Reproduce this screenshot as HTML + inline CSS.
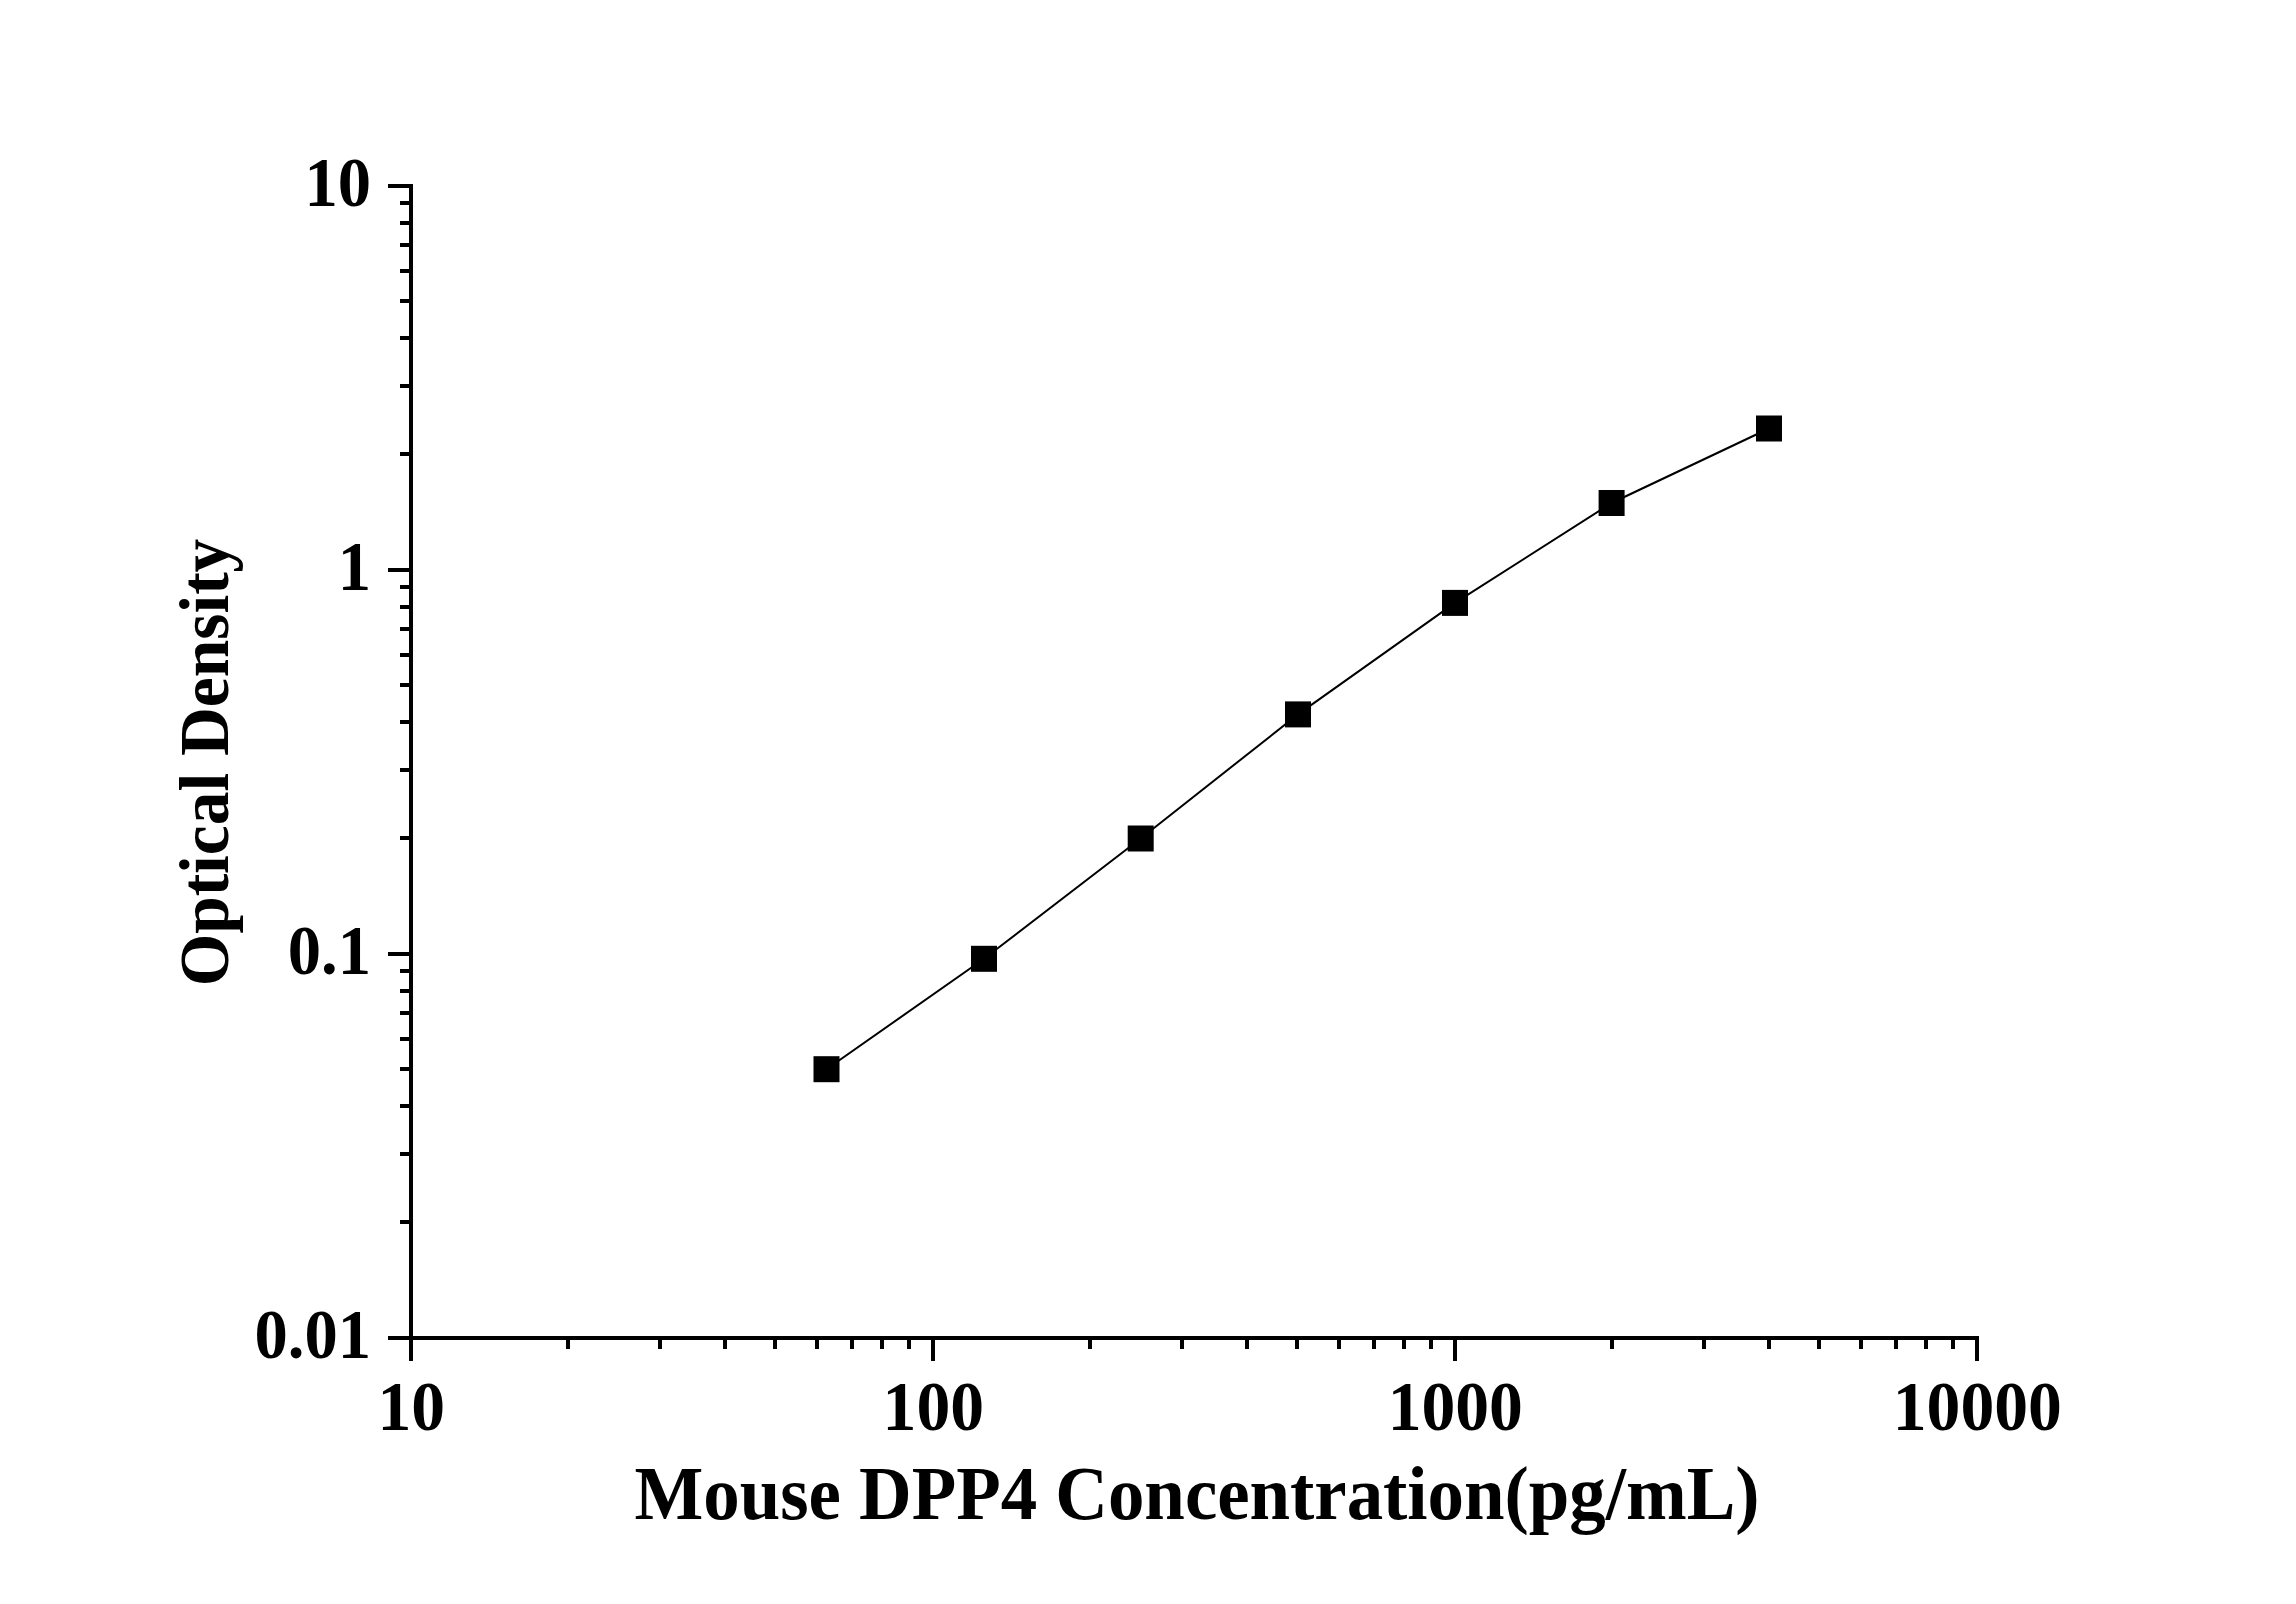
<!DOCTYPE html>
<html><head><meta charset="utf-8"><style>
html,body{margin:0;padding:0;background:#fff;}
svg{display:block;}
text{font-family:"Liberation Serif",serif;font-weight:bold;fill:#000;}
</style></head><body>
<svg width="2296" height="1604" viewBox="0 0 2296 1604">
<rect width="2296" height="1604" fill="#fff"/>
<rect x="409" y="184" width="4" height="1156" fill="#000"/>
<rect x="409" y="1336" width="1570" height="4" fill="#000"/>
<rect x="388" y="1336" width="25" height="4" fill="#000"/>
<rect x="400" y="1220" width="13" height="4" fill="#000"/>
<rect x="400" y="1152" width="13" height="4" fill="#000"/>
<rect x="400" y="1104" width="13" height="4" fill="#000"/>
<rect x="400" y="1067" width="13" height="4" fill="#000"/>
<rect x="400" y="1037" width="13" height="4" fill="#000"/>
<rect x="400" y="1011" width="13" height="4" fill="#000"/>
<rect x="400" y="989" width="13" height="4" fill="#000"/>
<rect x="400" y="969" width="13" height="4" fill="#000"/>
<rect x="388" y="952" width="25" height="4" fill="#000"/>
<rect x="400" y="836" width="13" height="4" fill="#000"/>
<rect x="400" y="768" width="13" height="4" fill="#000"/>
<rect x="400" y="720" width="13" height="4" fill="#000"/>
<rect x="400" y="683" width="13" height="4" fill="#000"/>
<rect x="400" y="653" width="13" height="4" fill="#000"/>
<rect x="400" y="627" width="13" height="4" fill="#000"/>
<rect x="400" y="605" width="13" height="4" fill="#000"/>
<rect x="400" y="585" width="13" height="4" fill="#000"/>
<rect x="388" y="568" width="25" height="4" fill="#000"/>
<rect x="400" y="452" width="13" height="4" fill="#000"/>
<rect x="400" y="384" width="13" height="4" fill="#000"/>
<rect x="400" y="336" width="13" height="4" fill="#000"/>
<rect x="400" y="299" width="13" height="4" fill="#000"/>
<rect x="400" y="269" width="13" height="4" fill="#000"/>
<rect x="400" y="243" width="13" height="4" fill="#000"/>
<rect x="400" y="221" width="13" height="4" fill="#000"/>
<rect x="400" y="201" width="13" height="4" fill="#000"/>
<rect x="388" y="184" width="25" height="4" fill="#000"/>
<rect x="409" y="1336" width="4" height="25" fill="#000"/>
<rect x="566" y="1336" width="4" height="13" fill="#000"/>
<rect x="658" y="1336" width="4" height="13" fill="#000"/>
<rect x="723" y="1336" width="4" height="13" fill="#000"/>
<rect x="773" y="1336" width="4" height="13" fill="#000"/>
<rect x="815" y="1336" width="4" height="13" fill="#000"/>
<rect x="850" y="1336" width="4" height="13" fill="#000"/>
<rect x="880" y="1336" width="4" height="13" fill="#000"/>
<rect x="907" y="1336" width="4" height="13" fill="#000"/>
<rect x="931" y="1336" width="4" height="25" fill="#000"/>
<rect x="1088" y="1336" width="4" height="13" fill="#000"/>
<rect x="1180" y="1336" width="4" height="13" fill="#000"/>
<rect x="1245" y="1336" width="4" height="13" fill="#000"/>
<rect x="1295" y="1336" width="4" height="13" fill="#000"/>
<rect x="1337" y="1336" width="4" height="13" fill="#000"/>
<rect x="1372" y="1336" width="4" height="13" fill="#000"/>
<rect x="1402" y="1336" width="4" height="13" fill="#000"/>
<rect x="1429" y="1336" width="4" height="13" fill="#000"/>
<rect x="1453" y="1336" width="4" height="25" fill="#000"/>
<rect x="1610" y="1336" width="4" height="13" fill="#000"/>
<rect x="1702" y="1336" width="4" height="13" fill="#000"/>
<rect x="1767" y="1336" width="4" height="13" fill="#000"/>
<rect x="1817" y="1336" width="4" height="13" fill="#000"/>
<rect x="1859" y="1336" width="4" height="13" fill="#000"/>
<rect x="1894" y="1336" width="4" height="13" fill="#000"/>
<rect x="1924" y="1336" width="4" height="13" fill="#000"/>
<rect x="1951" y="1336" width="4" height="13" fill="#000"/>
<rect x="1975" y="1336" width="4" height="25" fill="#000"/>
<polyline fill="none" stroke="#000" stroke-width="2" points="826.5,1069.2 984,958.8 1140.7,838.5 1298,714.4 1455,602.9 1611.6,503 1769,428.5"/>
<rect x="813.5" y="1056.2" width="26" height="26" fill="#000"/>
<rect x="971.0" y="945.8" width="26" height="26" fill="#000"/>
<rect x="1127.7" y="825.5" width="26" height="26" fill="#000"/>
<rect x="1285.0" y="701.4" width="26" height="26" fill="#000"/>
<rect x="1442.0" y="589.9" width="26" height="26" fill="#000"/>
<rect x="1598.6" y="490.0" width="26" height="26" fill="#000"/>
<rect x="1756.0" y="415.5" width="26" height="26" fill="#000"/>
<text transform="translate(371,205.5) scale(0.965,1)" text-anchor="end" font-size="69" >10</text>
<text transform="translate(371,589.5) scale(0.965,1)" text-anchor="end" font-size="69" >1</text>
<text transform="translate(371,973.5) scale(0.965,1)" text-anchor="end" font-size="69" >0.1</text>
<text transform="translate(371,1357.5) scale(0.965,1)" text-anchor="end" font-size="69" >0.01</text>
<text transform="translate(411.3,1430) scale(0.98,1)" text-anchor="middle" font-size="69" >10</text>
<text transform="translate(933.3,1430) scale(0.98,1)" text-anchor="middle" font-size="69" >100</text>
<text transform="translate(1455.3,1430) scale(0.98,1)" text-anchor="middle" font-size="69" >1000</text>
<text transform="translate(1977.3,1430) scale(0.98,1)" text-anchor="middle" font-size="69" >10000</text>
<text transform="translate(1197,1518.7) scale(0.965,1)" text-anchor="middle" font-size="75.5" >Mouse DPP4 Concentration(pg/mL)</text>
<text transform="translate(228,762.5) rotate(-90) scale(0.962,1)" text-anchor="middle" font-size="70.1">Optical Density</text>
</svg>
</body></html>
